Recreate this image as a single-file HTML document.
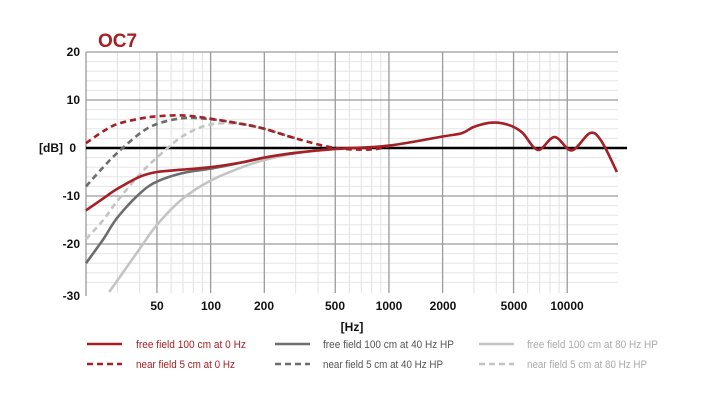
<!DOCTYPE html>
<html><head><meta charset="utf-8"><style>
body{margin:0;background:#fff;width:704px;height:400px;overflow:hidden}
svg{display:block;font-family:"Liberation Sans",sans-serif}
</style></head><body>
<svg id="s" width="704" height="400" viewBox="0 0 704 400">
<text x="98" y="47" font-size="19" font-weight="bold" fill="#a51f24">OC7</text>
<g id="grid"></g>
<g font-size="12" font-weight="bold" fill="#111" text-anchor="end">
<text x="80" y="56">20</text><text x="80" y="104">10</text><text x="76" y="152">0</text>
<text x="80" y="200">-10</text><text x="80" y="248">-20</text><text x="80" y="300">-30</text>
<text x="63" y="152">[dB]</text>
</g>
<g font-size="12" font-weight="bold" fill="#111" text-anchor="middle">
<text x="157" y="310">50</text><text x="211" y="310">100</text><text x="264" y="310">200</text>
<text x="335" y="310">500</text><text x="389" y="310">1000</text><text x="443" y="310">2000</text>
<text x="514" y="310">5000</text><text x="567" y="310">10000</text>
<text x="352" y="331">[Hz]</text>
</g>
<g id="curves" fill="none" stroke-width="2.6" stroke-linecap="butt"></g>
<g font-size="11">
<line x1="87" y1="344" x2="122" y2="344" stroke="#a51f24" stroke-width="2.6"/>
<line x1="87" y1="364" x2="122" y2="364" stroke="#a51f24" stroke-width="2.6" stroke-dasharray="6,4"/>
<text x="136" y="348" fill="#a51f24" textLength="110" lengthAdjust="spacingAndGlyphs">free field 100 cm at 0 Hz</text>
<text x="136" y="368" fill="#a51f24" textLength="99" lengthAdjust="spacingAndGlyphs">near field 5 cm at 0 Hz</text>
<line x1="275" y1="344" x2="310" y2="344" stroke="#6d6d6d" stroke-width="2.6"/>
<line x1="275" y1="364" x2="310" y2="364" stroke="#6d6d6d" stroke-width="2.6" stroke-dasharray="6,4"/>
<text x="323" y="348" fill="#555" textLength="131" lengthAdjust="spacingAndGlyphs">free field 100 cm at 40 Hz HP</text>
<text x="323" y="368" fill="#555" textLength="120" lengthAdjust="spacingAndGlyphs">near field 5 cm at 40 Hz HP</text>
<line x1="479" y1="344" x2="514" y2="344" stroke="#c4c4c4" stroke-width="2.6"/>
<line x1="479" y1="364" x2="514" y2="364" stroke="#c4c4c4" stroke-width="2.6" stroke-dasharray="6,4"/>
<text x="527" y="348" fill="#aaa" textLength="131" lengthAdjust="spacingAndGlyphs">free field 100 cm at 80 Hz HP</text>
<text x="527" y="368" fill="#aaa" textLength="120" lengthAdjust="spacingAndGlyphs">near field 5 cm at 80 Hz HP</text>
</g>
</svg>
<script>
const NS="http://www.w3.org/2000/svg";
const X=f=>86+178.3*Math.log10(f/20), Y=d=>148-4.8*d;
function el(p,t,a){const e=document.createElementNS(NS,t);for(const k in a)e.setAttribute(k,a[k]);p.appendChild(e);return e;}
const g=document.getElementById("grid");
for(let d=-30;d<=20;d+=2){ if(d%10) el(g,"line",{x1:86,x2:618,y1:Y(d),y2:Y(d),stroke:"#e6e6e6","stroke-width":1});}
[30,40,60,70,80,90,300,400,600,700,800,900,3000,4000,6000,7000,8000,9000].forEach(f=>el(g,"line",{x1:X(f),x2:X(f),y1:52,y2:293,stroke:"#e2e2e2","stroke-width":1}));
[50,100,200,500,1000,2000,5000,10000].forEach(f=>el(g,"line",{x1:X(f),x2:X(f),y1:52,y2:293,stroke:"#9a9a9a","stroke-width":1.3}));
[20,10,-10,-20].forEach(d=>el(g,"line",{x1:86,x2:618,y1:Y(d),y2:Y(d),stroke:"#9a9a9a","stroke-width":1.3}));
el(g,"line",{x1:86,x2:86,y1:52,y2:296,stroke:"#9a9a9a","stroke-width":1.3});
el(g,"line",{x1:86,x2:627,y1:148,y2:148,stroke:"#000","stroke-width":2.4});
function path(pts){const P=pts.map(([f,d])=>[X(f),Y(d)]);let s="M"+P[0][0].toFixed(1)+","+P[0][1].toFixed(1);
for(let i=0;i<P.length-1;i++){const p0=P[Math.max(0,i-1)],p1=P[i],p2=P[i+1],p3=P[Math.min(P.length-1,i+2)];
const c1=[p1[0]+(p2[0]-p0[0])/6,p1[1]+(p2[1]-p0[1])/6],c2=[p2[0]-(p3[0]-p1[0])/6,p2[1]-(p3[1]-p1[1])/6];
s+=`C${c1[0].toFixed(1)},${c1[1].toFixed(1)} ${c2[0].toFixed(1)},${c2[1].toFixed(1)} ${p2[0].toFixed(1)},${p2[1].toFixed(1)}`;}return s;}
const tail=[[300,-1],[500,-0.2],[1000,0.5],[2000,2.4],[2570,3.1],[3000,4.4],[3800,5.3],[4700,4.8],[5600,3.2],[6850,-0.4],[8500,2.3],[10600,-0.5],[13400,3.1],[15500,1.5],[19000,-5]];
const ntail=[[200,4],[300,2],[500,0],[800,-0.3],[1000,0.4]];
const c=document.getElementById("curves");
const S=[
["#c4c4c4","",[[27,-30],[40,-21],[50,-16],[70,-10.5],[100,-6.8],[150,-4],[200,-2.5],[300,-1.1],[500,-0.2]]],
["#c4c4c4","6,4",[[20,-19],[25,-15],[30,-11],[40,-5.5],[50,-2],[70,2.5],[100,4.9],[150,5],[200,4],[300,2]]],
["#6d6d6d","",[[20,-24],[25,-19],[30,-14.5],[40,-9.5],[50,-7],[70,-5.2],[100,-4.3],[150,-3],[200,-2],[300,-1]]],
["#6d6d6d","6,4",[[20,-8],[25,-4],[30,-1],[40,3],[50,5],[70,6.2],[100,6],[150,5],[200,4],[300,2]]],
["#a51f24","",[[20,-13],[25,-10.5],[30,-8.5],[40,-6],[50,-5],[70,-4.5],[100,-4],[150,-3],[200,-2]].concat(tail)],
["#a51f24","6,4",[[20,1],[25,3.5],[30,5],[40,6.1],[50,6.6],[70,6.8],[100,6.1],[150,5]].concat(ntail)]];
S.forEach(([col,da,pts])=>{const a={d:path(pts),stroke:col};if(da)a["stroke-dasharray"]=da;el(c,"path",a);});
</script>
</body></html>
